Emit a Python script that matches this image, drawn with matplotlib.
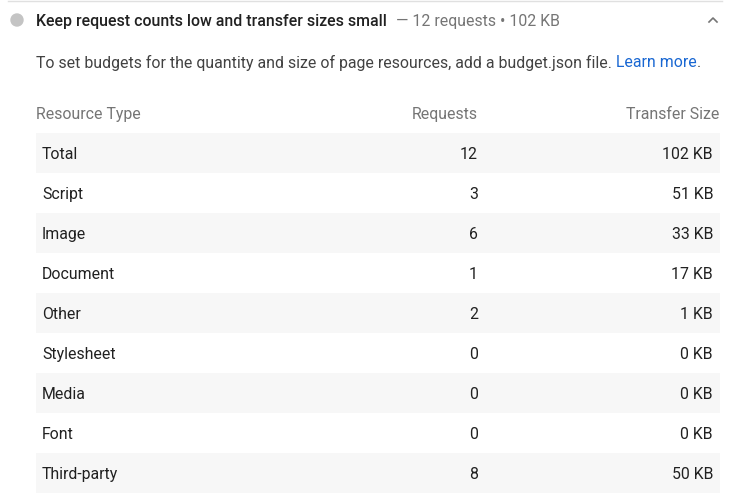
import matplotlib.pyplot as plt
from matplotlib.patches import Rectangle, Circle

plt.rcParams['font.family'] = ['Roboto', 'DejaVu Sans']

title = "Keep request counts low and transfer sizes small"
summary = "\u2014 12 requests \u2022 102 KB"
desc = "To set budgets for the quantity and size of page resources, add a budget.json file."
link = "Learn more"
headers = ["Resource Type", "Requests", "Transfer Size"]
types = ["Total", "Script", "Image", "Document", "Other",
         "Stylesheet", "Media", "Font", "Third-party"]
requests = [12, 3, 6, 1, 2, 0, 0, 0, 8]
sizes_kb = [102, 51, 33, 17, 1, 0, 0, 0, 50]

fig = plt.figure(figsize=(7.30, 4.94), dpi=100)
ax = fig.add_axes([0, 0, 1, 1])
ax.set_xlim(0, 730)
ax.set_ylim(494, 0)
ax.axis('off')

dark = '#212121'
gray = '#757575'
fs = 11.4

# top rule, bullet, title, chevron
ax.plot([8, 722], [1, 1], color='#e0e0e0', lw=1)
ax.add_patch(Circle((17, 20), 6, color='#c4c4c4'))
ax.text(36, 20, title, fontsize=11.4, fontweight='medium', color=dark, va='center_baseline')
ax.text(396, 20, summary, fontsize=11.4, color=gray, va='center_baseline')
ax.plot([709, 713, 717], [22, 18, 22], color=gray, lw=1.2)

ax.text(36, 61, desc, fontsize=fs, color='#424242', va='center_baseline')
ax.text(616, 61, link, fontsize=fs, color='#1967d2', va='center_baseline')
ax.text(697, 61, ".", fontsize=fs, color='#424242', va='center_baseline')

# table header
ax.text(36, 113, headers[0], fontsize=fs, color=gray, va='center_baseline')
ax.text(478, 113, headers[1], fontsize=fs, color=gray, va='center_baseline', ha='right')
ax.text(719, 113, headers[2], fontsize=fs, color=gray, va='center_baseline', ha='right')

for i, name in enumerate(types):
    yc = 153 + 40 * i
    if i % 2 == 0:
        ax.add_patch(Rectangle((36, yc - 20), 684, 40, color='#f7f7f7', lw=0))
    ax.text(42, yc, name, fontsize=fs, color=dark, va='center_baseline')
    ax.text(478, yc, str(requests[i]), fontsize=fs, color=dark, va='center_baseline', ha='right')
    ax.text(713, yc, f"{sizes_kb[i]} KB", fontsize=fs, color=dark, va='center_baseline', ha='right')

fig.savefig('out.png', dpi=100, facecolor='white')
